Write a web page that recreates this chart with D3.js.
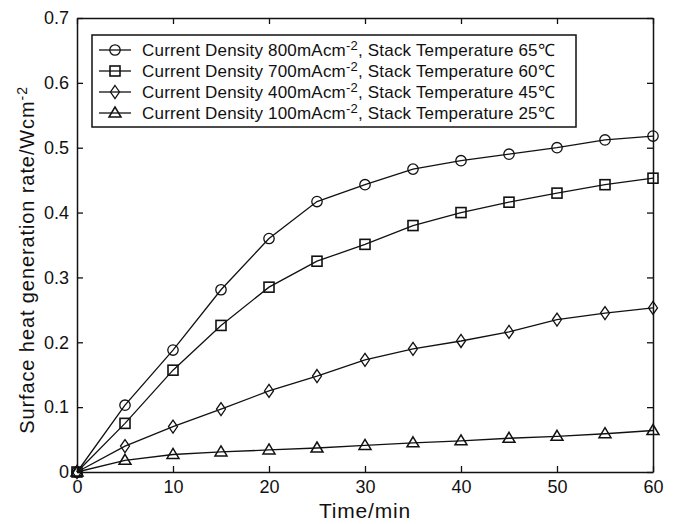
<!DOCTYPE html>
<html><head><meta charset="utf-8">
<script src="https://cdn.jsdelivr.net/npm/d3@7"></script>
<style>body{margin:0;background:#fff}svg{display:block}text{font-family:"Liberation Sans",Arial,sans-serif;fill:#111}</style>
</head><body><svg id="c" width="673" height="524"></svg>
<script>
const times = [0,5,10,15,20,25,30,35,40,45,50,55,60];
const s800 = [0,0.103,0.188,0.281,0.360,0.417,0.443,0.467,0.480,0.490,0.500,0.512,0.518];
const s700 = [0,0.075,0.157,0.226,0.285,0.325,0.351,0.380,0.400,0.416,0.430,0.443,0.453];
const s400 = [0,0.040,0.070,0.097,0.125,0.148,0.173,0.190,0.202,0.216,0.235,0.245,0.253];
const s100 = [0,0.018,0.027,0.031,0.034,0.037,0.041,0.045,0.048,0.052,0.055,0.059,0.064];
const densities = ["800","700","400","100"];
const temps = ["65","60","45","25"];
const markers = ["circle","square","diamond","triangle"];
const xTicks = [0,10,20,30,40,50,60];
const yTicks = [0,0.1,0.2,0.3,0.4,0.5,0.6,0.7];
const seriesVals = [s800,s700,s400,s100];

const svg = d3.select("#c");
const m = {l:77, r:20, t:18, b:52};
const W = 673, H = 524;
const x = d3.scaleLinear().domain([0,60]).range([m.l, W-m.r]);
const y = d3.scaleLinear().domain([0,0.7]).range([H-m.b, m.t]);
const tk = 6;

const fmt = d => d===0 ? "0" : d3.format(".1f")(d);
const gB = svg.append("g").attr("transform",`translate(0,${H-m.b})`)
  .call(d3.axisBottom(x).tickValues(xTicks).tickSizeInner(-tk).tickSizeOuter(0).tickPadding(8));
const gT = svg.append("g").attr("transform",`translate(0,${m.t})`)
  .call(d3.axisTop(x).tickValues(xTicks).tickSizeInner(-tk).tickSizeOuter(0).tickFormat(""));
const gL = svg.append("g").attr("transform",`translate(${m.l},0)`)
  .call(d3.axisLeft(y).tickValues(yTicks).tickSizeInner(-tk).tickSizeOuter(0).tickPadding(8).tickFormat(fmt));
const gR = svg.append("g").attr("transform",`translate(${W-m.r},0)`)
  .call(d3.axisRight(y).tickValues(yTicks).tickSizeInner(-tk).tickSizeOuter(0).tickFormat(""));
[gB,gT,gL,gR].forEach(g=>{
  g.select(".domain").attr("stroke","#111").attr("stroke-width",1.5);
  g.selectAll(".tick line").attr("stroke","#111").attr("stroke-width",1.3);
  g.selectAll(".tick text").style("font-size","18px").attr("fill","#111");
});

const line = d3.line().x((d,i)=>x(times[i])).y(d=>y(d));
function drawMarker(g, type, cx, cy){
  const sw = 1.3;
  if(type==="circle") g.append("circle").attr("cx",cx).attr("cy",cy).attr("r",5.2).attr("fill","none").attr("stroke","#111").attr("stroke-width",sw);
  else if(type==="square") g.append("rect").attr("x",cx-5).attr("y",cy-5).attr("width",10).attr("height",10).attr("fill","none").attr("stroke","#111").attr("stroke-width",sw+0.3);
  else if(type==="diamond") g.append("path").attr("d",`M${cx},${cy-6.5}L${cx+4.5},${cy}L${cx},${cy+6.5}L${cx-4.5},${cy}Z`).attr("fill","none").attr("stroke","#111").attr("stroke-width",sw);
  else g.append("path").attr("d",`M${cx},${cy-6}L${cx+6},${cy+4}L${cx-6},${cy+4}Z`).attr("fill","none").attr("stroke","#111").attr("stroke-width",sw+0.2);
}
seriesVals.forEach((vals,k)=>{
  svg.append("path").datum(vals).attr("d",line).attr("fill","none").attr("stroke","#111").attr("stroke-width",1.3);
  const g = svg.append("g");
  vals.forEach((v,i)=>drawMarker(g, markers[k], x(times[i]), y(v)));
});

const lg = svg.append("g");
lg.append("rect").attr("x",92).attr("y",35).attr("width",484).attr("height",92).attr("fill","#fff").attr("stroke","#111").attr("stroke-width",1.5);
densities.forEach((d,k)=>{
  const ry = 50 + k*21;
  lg.append("line").attr("x1",99).attr("x2",131).attr("y1",ry).attr("y2",ry).attr("stroke","#111").attr("stroke-width",1.3);
  drawMarker(lg, markers[k], 115, ry);
  const t = lg.append("text").attr("x",142).attr("y",ry+6).style("font-size","17px").style("letter-spacing","0.2px");
  t.append("tspan").text(`Current Density ${d}mAcm`);
  t.append("tspan").attr("dy",-6).style("font-size","13px").text("-2");
  t.append("tspan").attr("dy",6).text(`, Stack Temperature ${temps[k]}℃`);
});

svg.append("text").attr("x",(m.l+W-m.r)/2).attr("y",518).attr("text-anchor","middle").style("font-size","21px").style("letter-spacing","0.8px").text("Time/min");
const yt = svg.append("text").attr("transform",`translate(34,260) rotate(-90)`).attr("text-anchor","middle").style("font-size","20px").style("letter-spacing","0.9px");
yt.append("tspan").text("Surface heat generation rate/Wcm");
yt.append("tspan").attr("dy",-7).style("font-size","14px").text("-2");
</script></body></html>
